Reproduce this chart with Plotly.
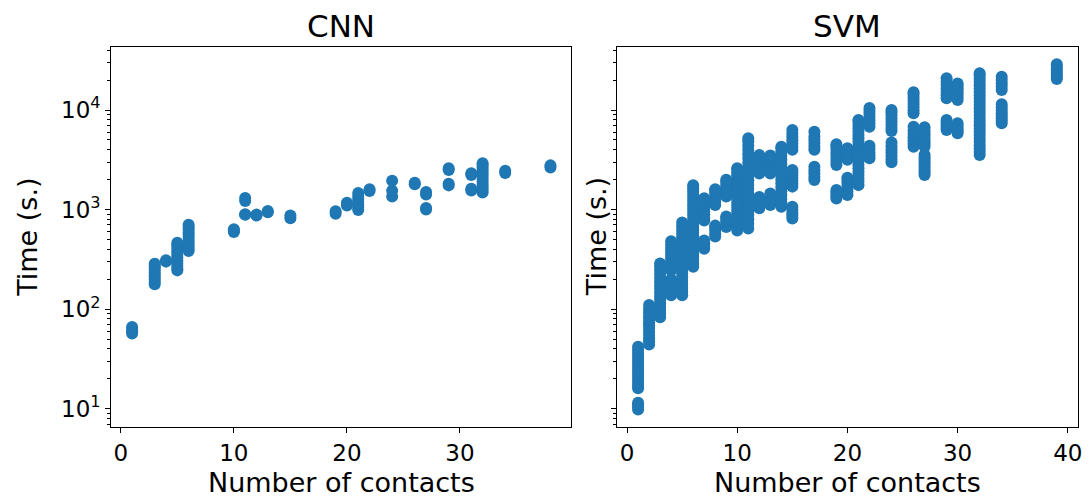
import plotly.graph_objects as go

# Run time (seconds) per number of contacts, grouped by contact count
cnn_contacts = [1, 3, 4, 5, 6, 10, 11, 12, 13, 15, 19, 20, 21, 22, 24, 26, 27, 29, 31, 32, 34, 38]
cnn_times = [
    [57, 60, 63, 66],
    [178, 188, 198, 210, 222, 235, 248, 262, 275, 285],
    [300, 310],
    [245, 258, 272, 290, 308, 328, 350, 372, 395, 420, 445, 465],
    [383, 405, 430, 458, 488, 520, 555, 590, 630, 670, 705],
    [595, 615, 635],
    [885, 900, 1220, 1310],
    [870, 890],
    [940, 970],
    [820, 870],
    [910, 960],
    [1100, 1170],
    [990, 1050, 1120, 1200, 1280, 1370, 1470],
    [1540, 1600],
    [1350, 1550, 1950],
    [1800, 1860],
    [1000, 1040, 1420, 1500],
    [1750, 1820, 2500, 2600],
    [1550, 1620, 2230, 2320],
    [1480, 1570, 1670, 1780, 1900, 2030, 2170, 2320, 2480, 2650, 2800, 2920],
    [2330, 2450],
    [2640, 2780],
]

svm_contacts = [1, 2, 3, 4, 5, 6, 7, 8, 9, 10, 11, 12, 13, 14, 15, 17, 19, 20,
                21, 22, 24, 26, 27, 29, 30, 32, 34, 39]
svm_times = [
    [9.8, 10.4, 11, 11.5, 16, 17, 18.2, 19.5, 21, 22.5, 24, 25.7, 27.5, 29.5, 31.6, 34, 36.5, 39, 42],
    [44, 47.5, 51, 55, 59, 64, 69, 74, 80, 86, 93, 101, 110],
    [83, 90, 97, 105, 114, 124, 135, 147, 160, 174, 190, 207, 226, 247, 268, 288],
    [138, 148, 160, 173, 186, 198, 245, 262, 282, 304, 328, 354, 382, 412, 445, 480],
    [138, 150, 163, 177, 193, 210, 228, 248, 270, 294, 320, 348, 378, 411, 447, 486, 528,
     574, 624, 680, 740],
    [266, 288, 312, 338, 366, 396, 429, 464, 502, 543, 588, 636, 688, 745, 806, 872, 944,
     1020, 1105, 1195, 1295, 1400, 1515, 1640, 1760],
    [405, 430, 460, 490, 775, 830, 890, 955, 1020, 1095, 1170, 1250, 1300],
    [535, 575, 620, 665, 690, 1110, 1190, 1275, 1365, 1460, 1560, 1600],
    [670, 715, 765, 815, 850, 1350, 1445, 1545, 1655, 1770, 1890, 1990],
    [615, 660, 710, 762, 818, 878, 943, 1012, 1087, 1167, 1253, 1345, 1444, 1550, 1665,
     1787, 1919, 2060, 2212, 2375, 2550, 2600],
    [645, 720, 800, 880, 975, 1080, 1190, 1320, 1460, 1610, 1780, 1970, 2180, 2410, 2660,
     2940, 3250, 3600, 3980, 4400, 4850, 5200],
    [1030, 1130, 1240, 1340, 2300, 2520, 2760, 3030, 3300, 3540],
    [1110, 1210, 1330, 1450, 2300, 2520, 2760, 3030, 3300, 3500],
    [1070, 1170, 1280, 1400, 1530, 1680, 1840, 2010, 2200, 2410, 2640, 2890, 3160, 3460,
     3790, 4100, 4270],
    [815, 865, 920, 990, 1070, 1700, 1820, 1950, 2080, 2220, 2370, 2500, 3980, 4280, 4620,
     4980, 5380, 5820, 6300],
    [1980, 2130, 2300, 2480, 2700, 3980, 4290, 4650, 5020, 5420, 6050],
    [1290, 1360, 1430, 1500, 1570, 2800, 3000, 3230, 3480, 3750, 4050, 4300, 4520],
    [1400, 1510, 1620, 1740, 1870, 2000, 2090, 3160, 3380, 3620, 3880, 4120],
    [1760, 1900, 2050, 2220, 2400, 2600, 2800, 3030, 3270, 3530, 3820, 4130, 4460, 4820,
     5200, 5620, 6070, 6560, 7090, 7660, 7940],
    [3270, 3500, 3750, 4050, 4380, 6800, 7300, 7900, 8500, 9150, 9850, 10500],
    [2980, 3200, 3450, 3720, 4000, 4330, 4730, 6150, 6600, 7100, 7650, 8250, 8900, 9500, 10000],
    [4270, 4580, 4950, 5330, 5750, 6200, 6800, 9260, 9950, 10700, 11500, 12400, 13300,
     14300, 15060],
    [2220, 2350, 2480, 2640, 2800, 2970, 3150, 3340, 3550, 4300, 4600, 4900, 5280, 5700,
     6150, 6700],
    [6300, 6650, 7050, 7500, 7940, 13100, 14100, 15200, 16400, 17800, 19200, 20800],
    [5840, 6150, 6500, 6900, 7350, 12600, 13500, 14600, 15500, 16500, 17500, 18500],
    [3530, 3800, 4100, 4430, 4800, 5180, 5600, 6050, 6530, 7050, 7620, 8230, 8890, 9600,
     10370, 11200, 12100, 13070, 14100, 15240, 16460, 17780, 19200, 20740, 22400, 23400],
    [7350, 7780, 8250, 8750, 9300, 9900, 10600, 11400, 15900, 17100, 18500, 20000, 21600],
    [20500, 21600, 22800, 24100, 25500, 27000, 28800],
]

panel_titles = ["CNN", "SVM"]
x_label = "Number of contacts"
y_label = "Time (s.)"
y_major = [10, 100, 1000, 10000]
y_major_text = ["10<sup>1</sup>", "10<sup>2</sup>", "10<sup>3</sup>", "10<sup>4</sup>"]
y_minor = [m * 10 ** e for e in range(0, 5) for m in range(2, 10)]


def flatten(contacts, times):
    xs, ys = [], []
    for c, ts in zip(contacts, times):
        xs.extend([c] * len(ts))
        ys.extend(ts)
    return xs, ys


W, H = 1089, 498
BLUE = "#1f77b4"
FONT = "DejaVu Sans"

fig = go.Figure()

for i, (contacts, times) in enumerate([(cnn_contacts, cnn_times), (svm_contacts, svm_times)]):
    xs, ys = flatten(contacts, times)
    fig.add_trace(go.Scatter(
        x=xs, y=ys, mode="markers",
        marker=dict(size=12, color=BLUE, line=dict(width=0)),
        xaxis="x" if i == 0 else "x2",
        yaxis="y" if i == 0 else "y2",
        showlegend=False,
        hoverinfo="x+y",
    ))

# Plot-area placement in pixels (left, right, top, bottom)
left_box = (111.7, 574.0)
right_box = (620.0, 1082.7)
top_px, bottom_px = 47.0, 427.0
ydom = [1 - bottom_px / H, 1 - top_px / H]

common_x = dict(
    showgrid=False, zeroline=False, showline=True, mirror=True,
    linecolor="black", linewidth=1,
    ticks="outside", ticklen=5, tickwidth=1, tickcolor="black",
    tickmode="linear", tick0=0, dtick=10,
    tickfont=dict(family=FONT, size=23, color="black"),
)
common_y = dict(
    type="log", range=[0.816, 4.633], domain=ydom,
    showgrid=False, zeroline=False, showline=True, mirror=True,
    linecolor="black", linewidth=1,
    ticks="outside", ticklen=5, tickwidth=1, tickcolor="black",
    tickmode="array", tickvals=y_major, ticktext=y_major_text,
    tickfont=dict(family=FONT, size=23, color="black"),
    minor=dict(ticks="outside", ticklen=3, tickwidth=1, tickcolor="black",
               tickmode="array", tickvals=y_minor, showgrid=False),
)

fig.update_layout(
    width=W, height=H,
    margin=dict(l=0, r=0, t=0, b=0),
    paper_bgcolor="white", plot_bgcolor="white",
    font=dict(family=FONT, color="black"),
    xaxis={**common_x, "domain": [left_box[0] / W, left_box[1] / W],
           "range": [-0.85, 39.85], "anchor": "y"},
    xaxis2={**common_x, "domain": [right_box[0] / W, right_box[1] / W],
            "range": [-0.9, 40.9], "anchor": "y2"},
    yaxis={**common_y, "anchor": "x"},
    yaxis2={**common_y, "anchor": "x2", "showticklabels": False},
)

annotations = []
for (x0, x1), title, ylab_x in zip([left_box, right_box], panel_titles, [28, 600]):
    cx = (x0 + x1) / 2 / W
    annotations.append(dict(
        text=title, x=cx, y=1 - 26 / H, xref="paper", yref="paper",
        xanchor="center", yanchor="middle", showarrow=False,
        font=dict(family=FONT, size=31, color="black"),
    ))
    annotations.append(dict(
        text=x_label, x=cx, y=1 - 482 / H, xref="paper", yref="paper",
        xanchor="center", yanchor="middle", showarrow=False,
        font=dict(family=FONT, size=27, color="black"),
    ))
    annotations.append(dict(
        text=y_label, x=ylab_x / W, y=(ydom[0] + ydom[1]) / 2,
        xref="paper", yref="paper", textangle=-90,
        xanchor="center", yanchor="middle", showarrow=False,
        font=dict(family=FONT, size=27, color="black"),
    ))
fig.update_layout(annotations=annotations)

fig.write_html("out.html")
